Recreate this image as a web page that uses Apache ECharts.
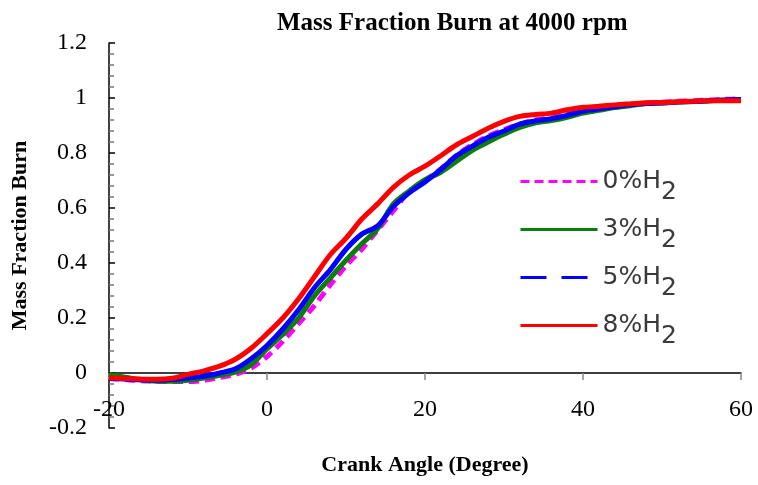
<!DOCTYPE html>
<html>
<head>
<meta charset="utf-8">
<script src="https://cdn.jsdelivr.net/npm/echarts@6/dist/echarts.min.js"></script>
<style>html,body{margin:0;padding:0;background:#fff;}#c{width:758px;height:485px;}</style>
</head>
<body>
<div id="c"></div>
<script>
const angles = [-20,-18,-16,-14,-12,-10,-8,-6,-4,-2,0,2,4,6,8,10,12,14,16,18,20,22,24,26,28,30,32,34,36,38,40,42,44,46,48,50,52,54,56,58,60];
const h2_0 = [-0.02,-0.024,-0.028,-0.03,-0.031,-0.031,-0.027,-0.016,-0.005,0.018,0.06,0.115,0.18,0.245,0.32,0.39,0.45,0.52,0.59,0.66,0.7,0.742,0.792,0.83,0.862,0.885,0.905,0.92,0.927,0.94,0.955,0.963,0.97,0.976,0.982,0.985,0.988,0.99,0.993,0.995,0.997];
const h2_3 = [-0.005,-0.015,-0.025,-0.03,-0.03,-0.026,-0.018,-0.008,0.003,0.03,0.088,0.14,0.2,0.28,0.345,0.41,0.47,0.525,0.615,0.662,0.703,0.73,0.77,0.81,0.84,0.868,0.893,0.91,0.918,0.93,0.945,0.955,0.965,0.972,0.98,0.982,0.985,0.987,0.99,0.992,0.993];
const h2_5 = [-0.02,-0.022,-0.025,-0.026,-0.024,-0.018,-0.012,0.0,0.015,0.052,0.1,0.16,0.23,0.31,0.375,0.45,0.505,0.535,0.605,0.655,0.695,0.74,0.79,0.825,0.857,0.88,0.905,0.917,0.925,0.937,0.952,0.96,0.968,0.975,0.98,0.982,0.985,0.987,0.99,0.993,0.995];
const h2_8 = [-0.017,-0.02,-0.022,-0.023,-0.019,-0.005,0.008,0.025,0.05,0.09,0.143,0.2,0.27,0.35,0.43,0.49,0.56,0.615,0.675,0.72,0.752,0.79,0.83,0.86,0.89,0.915,0.933,0.94,0.945,0.957,0.966,0.97,0.975,0.979,0.983,0.984,0.986,0.988,0.99,0.99,0.99];
const seriesNames = ['0%H2','3%H2','5%H2','8%H2'];
const yTicks = [-0.2,0,0.2,0.4,0.6,0.8,1,1.2];
const xTicks = [-20,0,20,40,60];

const pair = vals => angles.map((a,i)=>[a, vals[i]]);
const serif = 'Liberation Serif, Times New Roman, serif';

// grid geometry
const gridTop = 43, gridBottom = 57, H = 485;
const plotH = H - gridTop - gridBottom;
const yMin = yTicks[0], yMax = yTicks[yTicks.length-1];
// distance from grid bottom up to the zero line, so the x axis sits at y = 0
const zeroOffset = -Math.round((0 - yMin) / (yMax - yMin) * plotH);

const chart = echarts.init(document.getElementById('c'), null, {renderer:'canvas'});
chart.setOption({
  animation:false,
  backgroundColor:'#fff',
  title:{
    text:'Mass Fraction Burn at 4000 rpm',
    left:272, top:6,
    textStyle:{fontFamily:serif, fontWeight:'bold', fontSize:25, color:'#000'}
  },
  grid:{left:109, right:17, top:gridTop, bottom:gridBottom, containLabel:false, outerBoundsMode:'none'},
  legend:{
    orient:'vertical', left:514, top:153, itemWidth:77, itemHeight:14, itemGap:1,
    backgroundColor:'#fff',
    itemStyle:{opacity:0},
    data:[
      {name:seriesNames[0], itemStyle:{opacity:0}, lineStyle:{width:3, type:[9,5]}},
      {name:seriesNames[1], itemStyle:{opacity:0}, lineStyle:{width:3}},
      {name:seriesNames[2], itemStyle:{opacity:0}, lineStyle:{width:3, type:[26,15]}},
      {name:seriesNames[3], itemStyle:{opacity:0}, lineStyle:{width:3}}
    ],
    formatter: n => '{a|' + n.slice(0,-1) + '}{s|' + n.slice(-1) + '}',
    textStyle:{
      rich:{
        a:{fontFamily:'DejaVu Sans', fontSize:25, color:'#3a3a3a', lineHeight:24, verticalAlign:'middle'},
        s:{fontFamily:'DejaVu Sans', fontSize:25, color:'#3a3a3a', lineHeight:24, padding:[22,0,0,0], verticalAlign:'middle'}
      }
    }
  },
  xAxis:{
    type:'value', min:xTicks[0], max:xTicks[xTicks.length-1], interval:20,
    position:'bottom', offset:zeroOffset,
    name:'Crank Angle (Degree)', nameLocation:'middle', nameGap:81,
    nameTextStyle:{fontFamily:serif, fontWeight:'bold', fontSize:22, color:'#000'},
    axisLine:{onZero:false, lineStyle:{color:'#000', width:1.5}},
    axisTick:{show:true, length:7, lineStyle:{color:'#888', width:1.5}},
    axisLabel:{margin:25, fontFamily:serif, fontSize:24, color:'#000'},
    splitLine:{show:false}
  },
  yAxis:{
    type:'value', min:yMin, max:yMax, interval:0.2,
    name:'Mass Fraction Burn', nameLocation:'middle', nameGap:78,
    nameTextStyle:{fontFamily:serif, fontWeight:'bold', fontSize:22, color:'#000'},
    axisLine:{show:true, onZero:false, lineStyle:{color:'#000', width:1.5}},
    axisTick:{show:true, inside:true, length:6, lineStyle:{color:'#000', width:1.5}},
    minorTick:{show:true, splitNumber:5, length:5, lineStyle:{color:'#777', width:1.5}},
    axisLabel:{margin:22, fontFamily:serif, fontSize:24, color:'#000',
      formatter: v => String(Math.round(v*10)/10)},
    splitLine:{show:false}
  },
  series:[
    {name:seriesNames[0], type:'line', data:pair(h2_0), smooth:0.3, showSymbol:false, symbol:'none',
      color:'#ff00ff', lineStyle:{color:'#ff00ff', width:5, type:[10,6]}},
    {name:seriesNames[1], type:'line', data:pair(h2_3), smooth:0.3, showSymbol:false, symbol:'none',
      color:'#0a7d0a', lineStyle:{color:'#0a7d0a', width:5}},
    {name:seriesNames[2], type:'line', data:pair(h2_5), smooth:0.3, showSymbol:false, symbol:'none',
      color:'#0000ff', lineStyle:{color:'#0000ff', width:5}},
    {name:seriesNames[3], type:'line', data:pair(h2_8), smooth:0.3, showSymbol:false, symbol:'none',
      color:'#ff0000', lineStyle:{color:'#ff0000', width:5}}
  ]
});
</script>
</body>
</html>
